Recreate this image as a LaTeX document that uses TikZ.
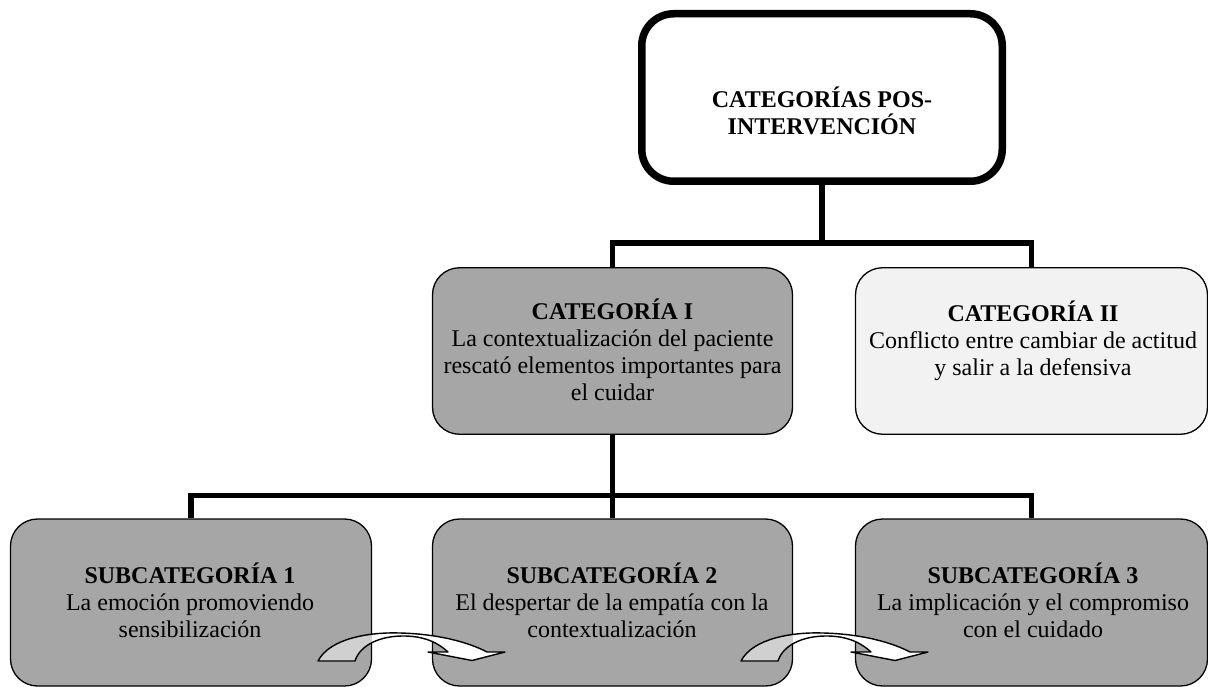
\documentclass[tikz,border=0pt]{standalone}
\usepackage{fontspec}
\setmainfont{Liberation Serif}
\usetikzlibrary{backgrounds}
\definecolor{boxgray}{HTML}{A6A6A6}
\definecolor{lightbox}{HTML}{F2F2F2}
\definecolor{tailgray}{HTML}{D0D0D0}
\newcommand\curvedArrowAt[2]{%
  \path[fill=white, shift={(#1,0)}] (318,661) .. controls (330,638) and (370,632) .. (400,633) .. controls (440,634) and (470,643) .. (487,652) -- (505,652) -- (472,660.5) -- (428,652) -- (448,652) .. controls (435,640) and (420,636) .. (403,636) .. controls (380,636) and (360,645) .. (355,661) -- cycle;
  \begin{scope}
    \clip (#2.north west) rectangle (#2.south east);
    \fill[tailgray, shift={(#1,0)}] (318,661) .. controls (330,638) and (370,632) .. (400,633) .. controls (440,634) and (470,643) .. (487,652) -- (505,652) -- (472,660.5) -- (428,652) -- (448,652) .. controls (435,640) and (420,636) .. (403,636) .. controls (380,636) and (360,645) .. (355,661) -- cycle;
  \end{scope}
  \draw[arrowline, shift={(#1,0)}] (318,661) .. controls (330,638) and (370,632) .. (400,633) .. controls (440,634) and (470,643) .. (487,652) -- (505,652) -- (472,660.5) -- (428,652) -- (448,652) .. controls (435,640) and (420,636) .. (403,636) .. controls (380,636) and (360,645) .. (355,661) -- cycle;
}
\begin{document}
\begin{tikzpicture}[x=1pt,y=-1pt,
  box/.style={draw=black, line width=1.3pt, rounded corners=27pt, inner sep=0pt, minimum height=166.5pt},
  topbox/.style={draw=black, line width=7.5pt, rounded corners=32pt, fill=white, inner sep=0pt, minimum width=360.5pt, minimum height=167.5pt},
  link/.style={line width=5.5pt},
  arrowline/.style={line width=1.4pt, line join=round},
  txt/.style={font=\fontsize{24}{27}\selectfont, align=center, inner sep=0pt, anchor=base}]
\useasboundingbox (0,0) rectangle (1208,687);
% boxes
\node[topbox] (top) at (822,97.5) {};
\node[box, fill=boxgray, minimum width=360pt] (catI) at (612.5,351) {};
\node[box, fill=lightbox, minimum width=352pt] (catII) at (1031.5,351) {};
\node[box, fill=boxgray, minimum width=361pt, minimum height=167pt] (sub1) at (191,602.5) {};
\node[box, fill=boxgray, minimum width=360pt, minimum height=167pt] (sub2) at (612.5,602.5) {};
\node[box, fill=boxgray, minimum width=352pt, minimum height=167pt] (sub3) at (1031.5,602.5) {};
% connectors (behind the boxes)
\coordinate (h1) at (0,243);
\coordinate (h2) at (0,495.5);
\begin{pgfonlayer}{background}
\draw[link] (top.south) -- (top.south |- h1);
\draw[link] (catI.north) -- (catI.north |- h1) -- (catII.north |- h1) -- (catII.north);
\draw[link] (catI.south) -- (sub2.north);
\draw[link] (sub1.north) -- (sub1.north |- h2) -- (sub3.north |- h2) -- (sub3.north);
\end{pgfonlayer}
% texts (anchored at the baseline of their last line)
\node[txt] (ttop) at (822,135) {\textbf{CATEGORÍAS POS-}\\\textbf{INTERVENCIÓN}};
\node[txt] (tcatI) at (612.5,400) {\textbf{CATEGORÍA I}\\La contextualización del paciente\\rescató elementos importantes para\\el cuidar};
\node[txt] (tcatII) at (1033,375) {\textbf{CATEGORÍA II}\\Conflicto entre cambiar de actitud\\y salir a la defensiva};
\node[txt] (tsub1) at (190,637) {\textbf{SUBCATEGORÍA 1}\\La emoción promoviendo\\sensibilización};
\node[txt] (tsub2) at (612,637) {\textbf{SUBCATEGORÍA 2}\\El despertar de la empatía con la\\contextualización};
\node[txt] (tsub3) at (1033,637) {\textbf{SUBCATEGORÍA 3}\\La implicación y el compromiso\\con el cuidado};
% curved arrows
\curvedArrowAt{0}{sub1}
\curvedArrowAt{423}{sub2}
\end{tikzpicture}
\end{document}
